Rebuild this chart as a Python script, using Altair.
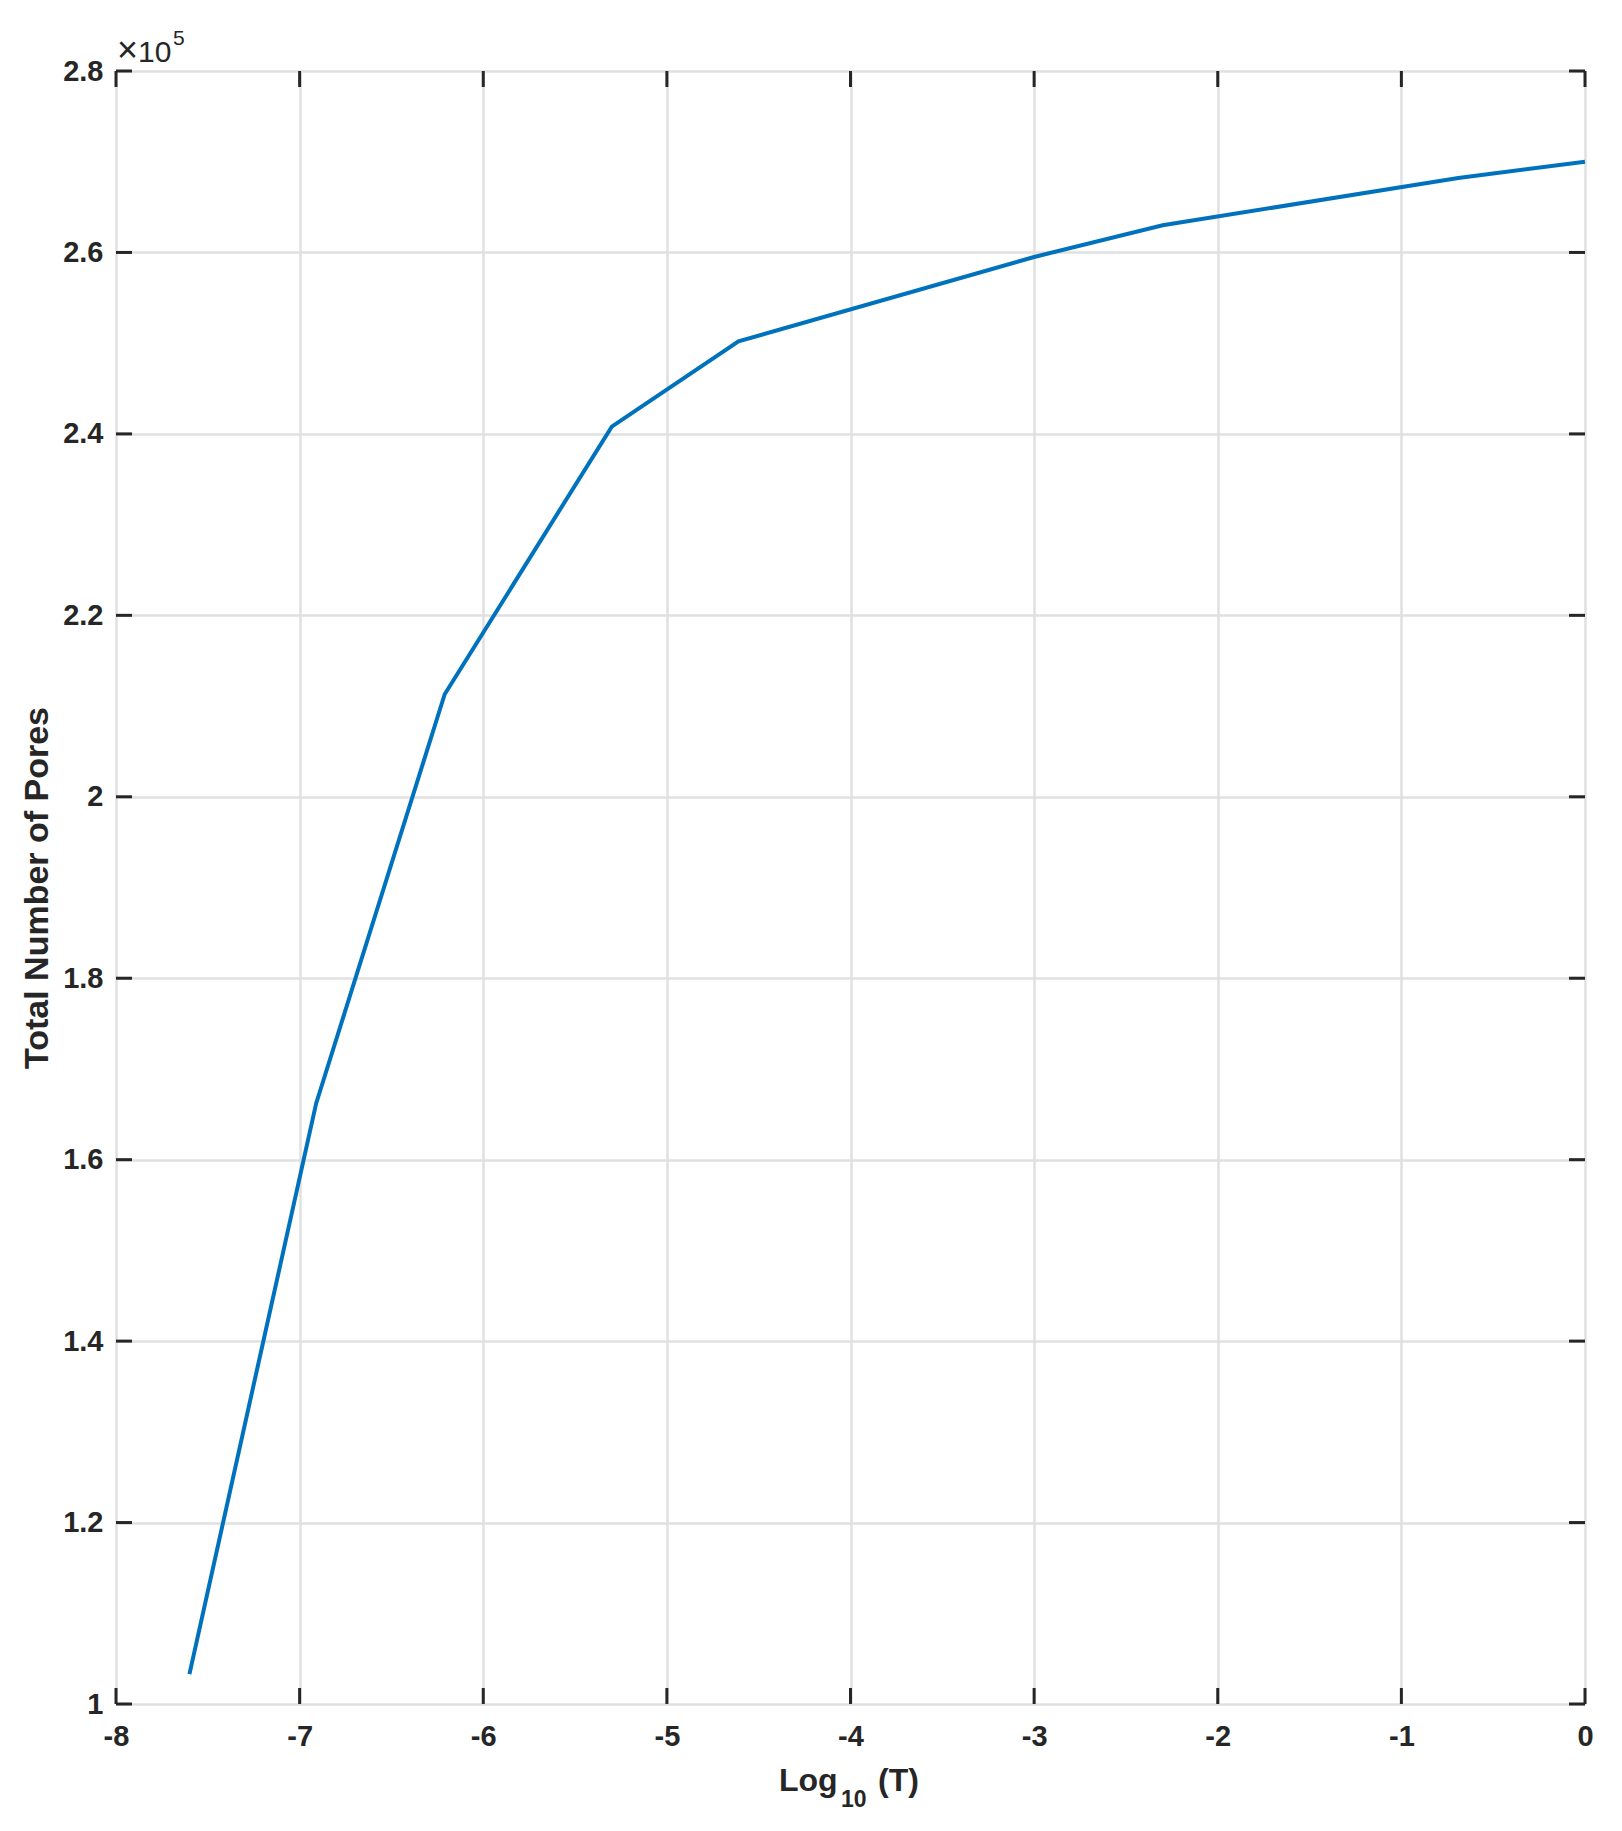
import altair as alt
import pandas as pd

# Data
log_t = [-7.60, -6.91, -6.21, -5.30, -4.61, -3.00, -2.30, -0.69, 0.0]
pores = [103300, 166200, 211300, 240800, 250200, 259500, 263000, 268200, 270000]

x_ticks = [-8, -7, -6, -5, -4, -3, -2, -1, 0]
y_ticks = [100000, 120000, 140000, 160000, 180000, 200000, 220000, 240000, 260000, 280000]

W, H = 1469, 1633
TL = 16
FONT = "Liberation Sans"
DARK = "#262626"

df = pd.DataFrame({"x": log_t, "y": pores})
dfx = pd.DataFrame({"x": x_ticks})
dfy = pd.DataFrame({"y": y_ticks})

xscale = alt.Scale(domain=[-8, 0], nice=False, zero=False)
yscale = alt.Scale(domain=[100000, 280000], nice=False, zero=False)

xaxis = alt.Axis(values=x_ticks, labelExpr="'' + datum.value", grid=True, ticks=False,
                 domain=False, labelPadding=18, labelFontSize=29, labelFont=FONT,
                 labelFontWeight="bold", labelColor=DARK, gridColor="#e0e0e0",
                 gridWidth=2.5, title=None, labelFlush=False, labelOverlap=False)
yaxis = alt.Axis(values=y_ticks, labelExpr="'' + round(datum.value / 10000) / 10", grid=True,
                 ticks=False, domain=False, labelPadding=13, labelFontSize=29, labelFont=FONT,
                 labelFontWeight="bold", labelColor=DARK, gridColor="#e0e0e0", gridWidth=2.5,
                 labelFlush=False, labelOverlap=False,
                 title="Total Number of Pores", titleFontSize=34, titleFont=FONT,
                 titleFontWeight="bold", titleColor=DARK, titlePadding=8)

line = alt.Chart(df).mark_line(color="#0072BD", strokeWidth=4).encode(
    x=alt.X("x:Q", scale=xscale, axis=xaxis),
    y=alt.Y("y:Q", scale=yscale, axis=yaxis),
)

tick_style = dict(color=DARK, strokeWidth=3)
bottom_ticks = alt.Chart(dfx).mark_rule(**tick_style).encode(
    x=alt.X("x:Q", scale=xscale), y=alt.value(H - TL), y2=alt.value(H))
top_ticks = alt.Chart(dfx).mark_rule(**tick_style).encode(
    x=alt.X("x:Q", scale=xscale), y=alt.value(0), y2=alt.value(TL))
left_ticks = alt.Chart(dfy).mark_rule(**tick_style).encode(
    y=alt.Y("y:Q", scale=yscale), x=alt.value(0), x2=alt.value(TL))
right_ticks = alt.Chart(dfy).mark_rule(**tick_style).encode(
    y=alt.Y("y:Q", scale=yscale), x=alt.value(W - TL), x2=alt.value(W))


def label(text, x, y, size, weight="bold"):
    return alt.Chart(pd.DataFrame({"t": [text]})).mark_text(
        align="left", baseline="alphabetic", font=FONT, fontSize=size,
        fontWeight=weight, color=DARK
    ).encode(text="t:N", x=alt.value(x), y=alt.value(y))


texts = [
    label("\u00d7", 1, -9, 36, "normal"),
    label("10", 22, -9, 30, "normal"),
    label("5", 57, -26, 21, "normal"),
    label("Log", 663, 1720, 32),
    label("10", 725, 1736, 23),
    label("(T)", 762, 1720, 32),
]

chart = alt.layer(line, bottom_ticks, top_ticks, left_ticks, right_ticks, *texts).properties(
    width=W, height=H,
    autosize=alt.AutoSizeParams(type="none"),
    padding={"left": 108, "top": 63, "right": 25, "bottom": 115},
).configure_view(stroke=DARK, strokeWidth=3).configure(background="white")

chart.save("out.html", embed_options={"renderer": "svg", "actions": False})
